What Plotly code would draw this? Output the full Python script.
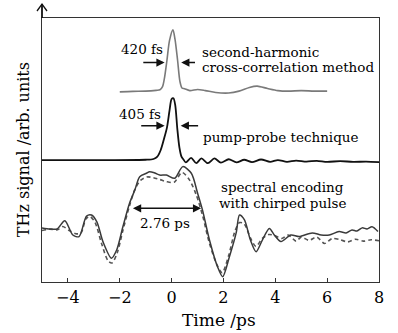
import plotly.graph_objects as go

# ---- data (time in ps, signal in arbitrary units, curves vertically offset) ----
t_sh = [-2.0, -1.5, -1.0, -0.6, -0.45, -0.35, -0.28, -0.18, -0.08, 0.05, 0.13, 0.23, 0.32, 0.4, 0.5,
        0.7, 1.0, 1.3, 1.7, 2.2, 2.6, 3.0, 3.3, 3.7, 4.1, 4.5, 5.0, 5.5, 6.0]
v_sh = [72.0, 72.2, 72.3, 72.6, 72.8, 74.0, 77.0, 84.0, 91.5, 95.5, 92.0, 84.0, 76.0, 73.5, 73.2,
        72.5, 72.9, 72.5, 71.8, 71.6, 72.3, 73.7, 74.2, 73.3, 72.5, 72.3, 72.5, 72.3, 72.3]

t_pp = [-5.0, -3.0, -1.0, -0.7, -0.55, -0.42, -0.3, -0.18, -0.08, 0.0, 0.07, 0.14, 0.22, 0.3, 0.38, 0.45,
        0.55, 0.75, 0.95, 1.15, 1.4, 1.65, 1.9, 2.2, 2.5, 2.8, 3.1, 3.45, 3.8, 4.1, 4.45, 4.8, 5.2,
        5.6, 6.0, 6.5, 7.0, 7.5, 8.0]
v_pp = [46.2, 46.2, 46.3, 46.6, 47.5, 50.0, 54.0, 58.5, 65.0, 69.3, 69.6, 67.0, 58.0, 51.0, 47.5, 46.5,
        45.3, 47.0, 45.0, 46.8, 45.0, 46.8, 45.2, 46.5, 45.3, 46.3, 45.4, 46.4, 45.5, 46.2, 45.5, 46.0, 45.6,
        45.9, 45.5, 45.8, 45.5, 45.6, 45.4]

t_se = [-5.0, -4.69, -4.42, -4.12, -3.81, -3.57, -3.28, -3.09, -2.88, -2.65, -2.32, -2.12, -1.88, -1.62,
        -1.42, -1.23, -0.97, -0.85, -0.65, -0.46, -0.2, 0.12, 0.43, 0.76, 1.0, 1.19, 1.46, 1.77, 1.97,
        2.23, 2.49, 2.62, 2.81, 3.04, 3.26, 3.5, 3.77, 3.96, 4.22, 4.6, 4.92, 5.42, 5.77, 6.08, 6.46,
        6.73, 6.96, 7.15, 7.35, 7.54, 7.73, 7.96]
v_se = [20.5, 20.1, 20.1, 23.2, 17.8, 17.2, 25.0, 25.4, 22.7, 15.3, 9.0, 12.1, 20.9, 29.9,
        34.8, 39.9, 41.2, 41.8, 41.3, 40.5, 40.5, 39.3, 43.7, 41.2, 33.7, 27.3, 15.9, 5.8, 2.0,
        9.6, 18.6, 25.4, 23.5, 15.9, 11.5, 15.9, 20.3, 17.8, 15.3, 17.8, 17.2, 18.6, 17.8, 17.8, 19.1,
        18.6, 19.7, 19.3, 20.5, 20.1, 20.9, 19.1]

t_se_ref = [-5.0, -4.7, -4.4, -4.2, -3.95, -3.7, -3.5, -3.3, -3.15, -2.95, -2.7, -2.45, -2.3, -2.1,
            -1.88, -1.62, -1.42, -1.2, -0.95, -0.7, -0.45, -0.2, 0.1, 0.4, 0.7, 0.95, 1.2, 1.45, 1.75,
            1.95, 2.2, 2.45, 2.62, 2.8, 3.05, 3.25, 3.5, 3.75, 4.0, 4.25, 4.5, 4.8, 5.0, 5.3, 5.6, 5.9,
            6.2, 6.5, 6.8, 7.1, 7.4, 7.7, 8.0]
v_se_ref = [19.5, 20.0, 19.8, 21.0, 19.5, 18.3, 18.5, 24.0, 24.8, 22.5, 14.5, 8.0, 7.2, 11.0,
            19.5, 29.0, 35.0, 38.5, 39.8, 39.5, 38.8, 38.0, 37.8, 41.5, 38.5, 33.0, 25.0, 15.0, 6.5,
            3.5, 10.0, 19.5, 22.5, 22.0, 16.5, 13.5, 16.5, 18.0, 17.5, 16.5, 17.8, 15.5, 17.0, 15.8, 17.0, 14.6,
            16.5, 16.0, 15.2, 16.2, 15.5, 16.0, 15.6]

x_ticks = [-4, -2, 0, 2, 4, 6, 8]

FONT = "DejaVu Serif"

fig = go.Figure()
fig.add_trace(go.Scatter(x=t_sh, y=v_sh, mode="lines", line=dict(color="#7a7a7a", width=1.6, shape="spline", smoothing=0.8)))
fig.add_trace(go.Scatter(x=t_pp, y=v_pp, mode="lines", line=dict(color="#111111", width=1.8, shape="spline", smoothing=0.8)))
fig.add_trace(go.Scatter(x=t_se_ref, y=v_se_ref, mode="lines", line=dict(color="#555555", width=1.6, dash="4px,3px", shape="spline", smoothing=0.8)))
fig.add_trace(go.Scatter(x=t_se, y=v_se, mode="lines", line=dict(color="#3a3a3a", width=1.5, shape="spline", smoothing=0.8)))

ann = []
def txt(x, y, s, size=13.5, xanchor="center"):
    ann.append(dict(x=x, y=y, text=s, showarrow=False, xanchor=xanchor, yanchor="middle",
                    font=dict(family=FONT, size=size, color="#000")))

def arr(x0, y0, x1, y1, side="end"):
    ann.append(dict(x=x1, y=y1, ax=x0, ay=y0, xref="x", yref="y", axref="x", ayref="y",
                    text="", showarrow=True, arrowhead=2, arrowsize=1.1, arrowwidth=1.5,
                    arrowcolor="#111", arrowside=side, standoff=0, startstandoff=0))

txt(-1.15, 88.3, "420 fs")
arr(-1.15, 83.1, -0.27, 83.1)
arr(0.96, 83.1, 0.37, 83.1)
txt(1.1, 87.1, "second-harmonic", xanchor="left")
txt(1.1, 81.4, "cross-correlation method", xanchor="left")

txt(-1.23, 63.6, "405 fs")
arr(-1.23, 59.2, -0.27, 59.2)
arr(1.08, 59.2, 0.35, 59.2)
txt(1.14, 54.9, "pump-probe technique", xanchor="left")

txt(4.27, 36.0, "spectral encoding")
txt(4.27, 29.9, "with chirped pulse")
arr(-1.55, 27.9, 1.14, 27.9, side="end+start")
txt(-0.27, 22.2, "2.76 ps")

# axis titles
ann.append(dict(xref="paper", yref="paper", x=-0.056, y=0.5, xanchor="center", yanchor="middle",
                text="THz signal /arb. units", textangle=-90,
                showarrow=False, font=dict(family=FONT, size=16, color="#000")))
ann.append(dict(xref="paper", yref="paper", x=0.525, y=-0.145, xanchor="center", yanchor="middle",
                text="Time /ps", showarrow=False, font=dict(family=FONT, size=17, color="#000")))

shapes = [
    # extension of the y axis above the frame, with an open arrow head
    dict(type="line", xref="paper", yref="paper", x0=0, x1=0, y0=1.0, y1=(282 - 4) / 264,
         line=dict(color="#111", width=1.8)),
    dict(type="path", xref="paper", yref="paper",
         path=f"M {-5/337} {(282-11)/264} L 0 {(282-4)/264} L {5/337} {(282-11)/264}",
         line=dict(color="#111", width=1.3)),
]

fig.update_layout(
    width=398, height=333,
    margin=dict(l=42, r=19, t=18, b=51),
    plot_bgcolor="white", paper_bgcolor="white",
    showlegend=False,
    annotations=ann, shapes=shapes,
    xaxis=dict(range=[-5, 8], tickvals=x_ticks, ticks="inside", ticklen=4, tickwidth=1, tickcolor="#333",
               showline=True, linecolor="#333", linewidth=1.3, mirror=True, showgrid=False, zeroline=False,
               ticklabelstandoff=1,
               tickfont=dict(family=FONT, size=16, color="#000")),
    yaxis=dict(range=[0, 100], showticklabels=False, ticks="", showline=True, linecolor="#333",
               linewidth=1.3, mirror=True, showgrid=False, zeroline=False),
)

fig.write_html("out.html")
